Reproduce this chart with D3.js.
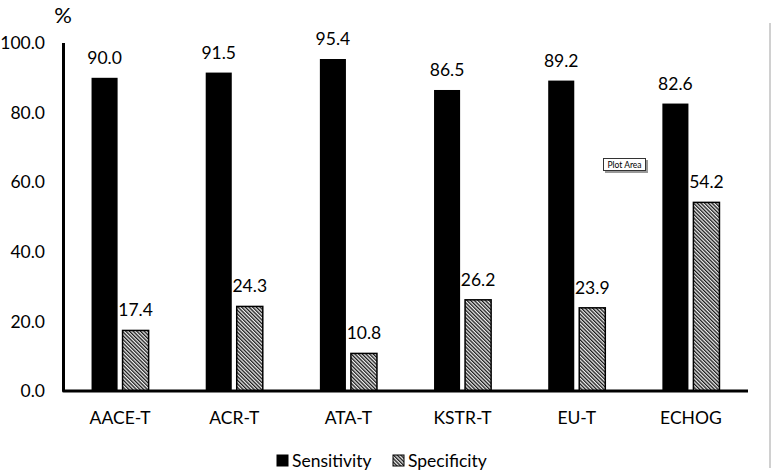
<!DOCTYPE html>
<html><head><meta charset="utf-8">
<script src="https://cdn.jsdelivr.net/npm/d3@7"></script>
<style>body{margin:0;background:#fff}svg{display:block}text{font-family:Lato,"Open Sans",sans-serif;fill:#000}</style>
</head><body>
<svg id="c" width="775" height="475"></svg>
<script>
const categories = ["AACE-T","ACR-T","ATA-T","KSTR-T","EU-T","ECHOG"];
const seriesNames = ["Sensitivity","Specificity"];
const sensitivity = [90.0,91.5,95.4,86.5,89.2,82.6];
const specificity = [17.4,24.3,10.8,26.2,23.9,54.2];
const yTicks = [0,20,40,60,80,100];

const svg = d3.select("#c");
const defs = svg.append("defs");
const pat = defs.append("pattern").attr("id","hatch").attr("patternUnits","userSpaceOnUse")
  .attr("width",2.6).attr("height",2.6).attr("patternTransform","rotate(-45)");
pat.append("rect").attr("width",2.6).attr("height",2.6).attr("fill","#eeeeee");
pat.append("rect").attr("width",1.3).attr("height",2.6).attr("fill","#1a1a1a");

const x0 = d3.scaleBand().domain(categories).range([63,748]).paddingInner(0.5).paddingOuter(0.25);
const x1 = d3.scaleBand().domain(seriesNames).range([0,x0.bandwidth()]).paddingInner(0.16);
const y = d3.scaleLinear().domain([0,100]).range([391,43]);

const data = categories.map((c,i)=>({c, vals:[{s:"Sensitivity",v:sensitivity[i]},{s:"Specificity",v:specificity[i]}]}));

// right border line
svg.append("line").attr("x1",770).attr("x2",770).attr("y1",23).attr("y2",468)
  .attr("stroke","#d0d0d0").attr("stroke-width",2);

const g = svg.selectAll("g.grp").data(data).enter().append("g")
  .attr("transform",d=>`translate(${x0(d.c)},0)`);
g.selectAll("rect").data(d=>d.vals).enter().append("rect")
  .attr("x",d=>x1(d.s)).attr("width",x1.bandwidth())
  .attr("y",d=>y(d.v)).attr("height",d=>y(0)-y(d.v))
  .attr("fill",d=>d.s==="Sensitivity"?"#000":"url(#hatch)")
  .attr("stroke","#000").attr("stroke-width",d=>d.s==="Sensitivity"?0:1.5);
g.selectAll("text").data(d=>d.vals).enter().append("text")
  .attr("x",d=>x1(d.s)+x1.bandwidth()/2).attr("y",d=>y(d.v)-14)
  .attr("text-anchor","middle").attr("font-size",17.5).text(d=>d.v.toFixed(1));

// axes
const yAxis = d3.axisLeft(y).tickValues(yTicks).tickSize(0).tickPadding(18).tickFormat(d=>d.toFixed(1));
const ya = svg.append("g").attr("transform","translate(63,0)").call(yAxis);
ya.select(".domain").remove();
ya.selectAll("text").attr("font-size",17.5).attr("font-family","Lato,sans-serif").attr("fill","#000");
const xAxis = d3.axisBottom(x0).tickSize(0).tickPadding(21);
const xa = svg.append("g").attr("transform","translate(0,391)").call(xAxis);
xa.select(".domain").remove();
xa.selectAll("text").attr("font-size",17.5).attr("font-family","Lato,sans-serif").attr("fill","#000");

svg.append("path").attr("d",`M63.5,${y(100)}V${y(0)}H748`).attr("fill","none")
  .attr("stroke","#000").attr("stroke-width",3).attr("stroke-linejoin","round");

svg.append("text").attr("x",63).attr("y",23).attr("text-anchor","middle").attr("font-size",22).text("%");

// legend
const legend = [{s:"Sensitivity",x:277},{s:"Specificity",x:393}];
const lg = svg.selectAll("g.lg").data(legend).enter().append("g");
lg.append("rect").attr("x",d=>d.x).attr("y",455).attr("width",11).attr("height",11)
  .attr("fill",d=>d.s==="Sensitivity"?"#000":"url(#hatch)").attr("stroke","#000").attr("stroke-width",1);
lg.append("text").attr("x",d=>d.x+15).attr("y",467).attr("font-size",17.5).text(d=>d.s);

// Plot Area tooltip
svg.append("rect").attr("x",605).attr("y",160).attr("width",43).attr("height",13).attr("fill","#999");
svg.append("rect").attr("x",603.5).attr("y",158.5).attr("width",42).attr("height",12).attr("fill","#fff").attr("stroke","#333").attr("stroke-width",1);
svg.append("text").attr("x",624.5).attr("y",167.5).attr("text-anchor","middle").attr("font-size",8.5).attr("font-family","'Liberation Sans',Arial,sans-serif").text("Plot Area");
</script>
</body></html>
